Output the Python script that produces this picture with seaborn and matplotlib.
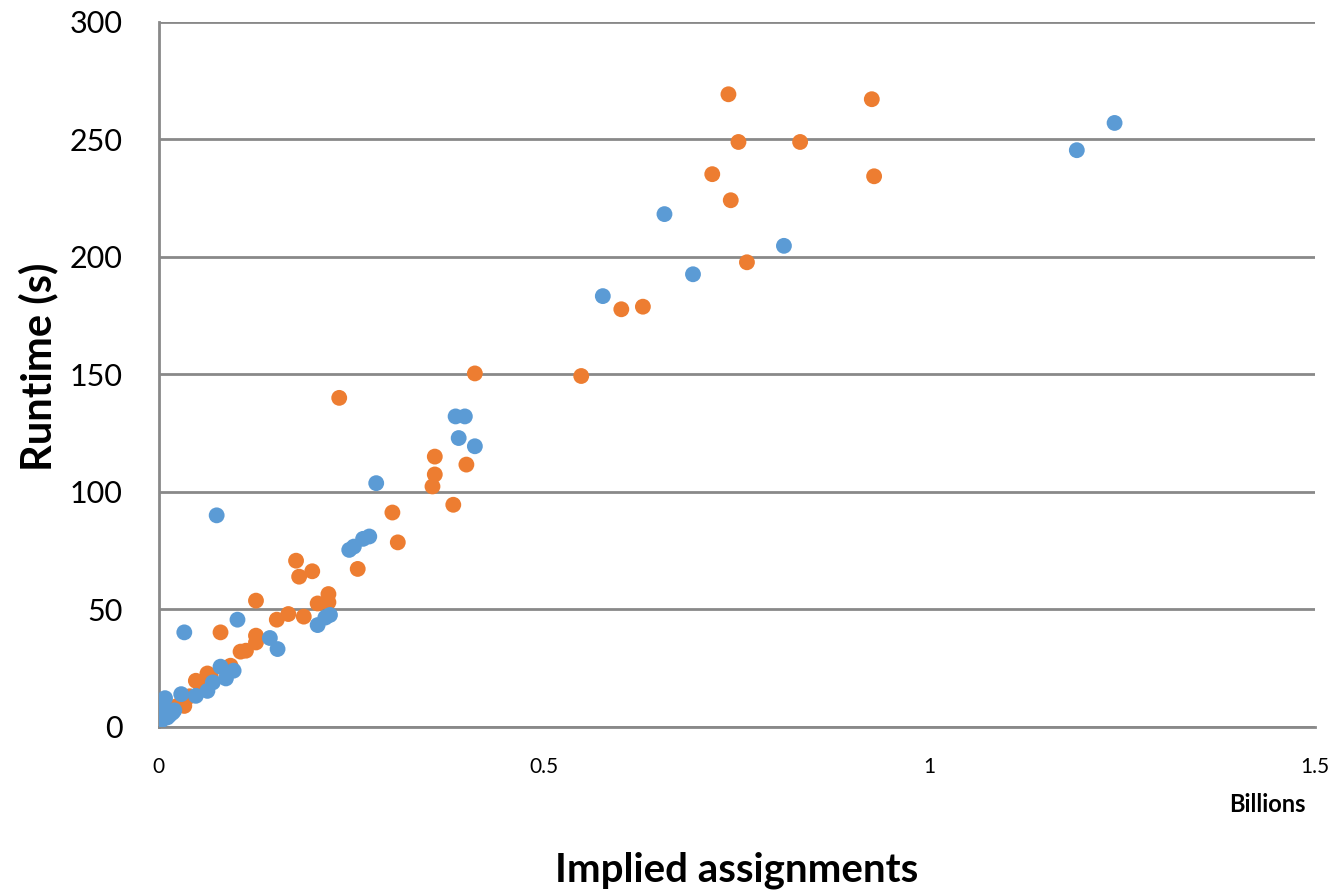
import numpy as np
import pandas as pd
import matplotlib
matplotlib.use('Agg')
import matplotlib.pyplot as plt
import seaborn as sns

# values (x in billions, y in seconds)
blue_x = [1.240, 1.191, 0.811, 0.693, 0.656, 0.576,
          0.385, 0.397, 0.389, 0.410, 0.282, 0.075, 0.247, 0.253, 0.265, 0.273,
          0.102, 0.033, 0.206, 0.222, 0.216, 0.144, 0.154, 0.080, 0.097, 0.087,
          0.070, 0.063, 0.048, 0.029, 0.008, 0.007, 0.018, 0.003, 0.011, 0.000,
          0.000, 0.004, 0.006, 0.014, 0.020]
blue_y = [257.0, 245.4, 204.7, 192.6, 218.2, 183.3,
          132.1, 132.1, 122.9, 119.4, 103.7, 90.0, 75.3, 76.7, 80.0, 81.0,
          45.6, 40.2, 43.3, 47.6, 46.5, 37.8, 33.1, 25.6, 23.9, 20.6,
          18.9, 15.3, 13.2, 13.9, 12.2, 7.5, 6.1, 4.0, 4.0, 2.6,
          1.5, 3.0, 5.5, 5.0, 7.0]
orange_x = [0.739, 0.925, 0.752, 0.832, 0.718, 0.928, 0.742, 0.763, 0.600, 0.628,
            0.548, 0.410,
            0.234, 0.358, 0.358, 0.355, 0.399, 0.382, 0.303, 0.310, 0.178, 0.182,
            0.199, 0.258, 0.220, 0.220, 0.206, 0.126,
            0.080, 0.153, 0.168, 0.188, 0.126, 0.126, 0.106, 0.113, 0.093, 0.067,
            0.063, 0.048, 0.024, 0.033, 0.020, 0.040, 0.030, 0.055, 0.060]
orange_y = [269.2, 267.1, 248.9, 248.9, 235.2, 234.3, 224.1, 197.7, 177.7, 178.8,
            149.3, 150.4,
            140.0, 115.0, 107.4, 102.3, 111.6, 94.5, 91.2, 78.5, 70.7, 63.9,
            66.2, 67.2, 56.5, 53.0, 52.5, 53.7,
            40.2, 45.6, 48.0, 46.9, 38.8, 35.9, 32.0, 32.4, 26.0, 21.7,
            22.7, 19.6, 8.9, 8.9, 7.5, 13.0, 10.5, 16.5, 18.5]

x_ticks = [0, 0.5, 1, 1.5]
x_tick_labels = ['0', '0.5', '1', '1.5']
y_ticks = [0, 50, 100, 150, 200, 250, 300]

df = pd.DataFrame({
    'x': orange_x + blue_x,
    'y': orange_y + blue_y,
    'series': ['orange'] * len(orange_x) + ['blue'] * len(blue_x),
})

sns.set_style('white')
plt.rcParams['font.family'] = ['Lato', 'DejaVu Sans']
plt.rcParams['text.color'] = 'black'
plt.rcParams['xtick.color'] = 'black'
plt.rcParams['ytick.color'] = 'black'

fig = plt.figure(figsize=(13.35, 8.94), dpi=100)
ax = fig.add_axes([0.119, 0.187, 0.866, 0.7885])

# orange first so blue sits on top, as in the reference
sns.scatterplot(data=df, x='x', y='y', hue='series',
                palette={'orange': '#ED7D31', 'blue': '#5B9BD5'},
                s=130, linewidth=0, legend=False, ax=ax, zorder=3)

ax.set_xlim(0, 1.5)
ax.set_ylim(0, 300)
ax.set_xticks(x_ticks)
ax.set_xticklabels(x_tick_labels, fontsize=15)
ax.set_yticks(y_ticks)
ax.tick_params(axis='y', labelsize=22, length=11, width=2, color='#898989',
               labelcolor='black', pad=15)
ax.tick_params(axis='x', length=8, width=1.5, color='#898989', labelcolor='black',
               pad=14, direction='out')
ax.yaxis.grid(True, color='#898989', linewidth=2)
ax.set_axisbelow(True)

for side in ['top', 'right']:
    ax.spines[side].set_visible(False)
for side in ['left', 'bottom']:
    ax.spines[side].set_color('#898989')
    ax.spines[side].set_linewidth(2)

ax.set_xlabel('')
ax.set_ylabel('')
fig.text(0.029, 0.59, 'Runtime (s)', fontsize=30, fontweight='bold',
         rotation=90, ha='center', va='center')
fig.text(0.552, 0.014, 'Implied assignments', fontsize=29, fontweight='bold',
         ha='center', va='baseline')
fig.text(0.978, 0.092, 'Billions', fontsize=17, fontweight='bold',
         ha='right', va='baseline')

fig.savefig('out.png', dpi=100)
